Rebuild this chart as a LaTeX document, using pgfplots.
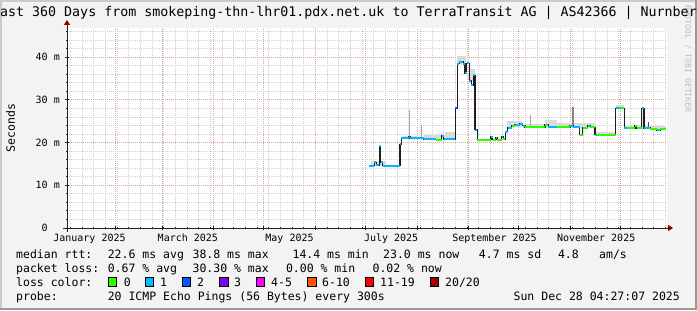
\documentclass[border=0pt]{standalone}
\usepackage{pgfplots}
\pgfplotsset{compat=1.18}
\usepackage{fontspec}
\setmainfont{DejaVu Sans Mono}
\usetikzlibrary{arrows.meta}
\definecolor{bgc}{HTML}{F3F3F3}
\definecolor{shadeA}{HTML}{CBCBCB}
\definecolor{shadeB}{HTML}{999999}
\definecolor{mgridc}{HTML}{DCA0A0}
\definecolor{gridc}{HTML}{D0D0D0}
\definecolor{axisc}{HTML}{202020}
\definecolor{arrowc}{HTML}{8B0000}
\definecolor{wmark}{HTML}{BDBDBD}
\definecolor{lc0}{HTML}{26FF00}
\definecolor{lc1}{HTML}{00B8FF}
\definecolor{lc2}{HTML}{0059FF}
\definecolor{lc3}{HTML}{7E00FF}
\definecolor{lc45}{HTML}{FF00FF}
\definecolor{lc610}{HTML}{FF5500}
\definecolor{lc1119}{HTML}{FF0000}
\definecolor{lc20}{HTML}{A10000}
\definecolor{smL}{HTML}{DADADA}
\definecolor{smM}{HTML}{A8A8A8}
\definecolor{smD}{HTML}{505050}
\definecolor{medline}{HTML}{1E1E1E}
\newcommand{\lgfont}{\fontsize{11.5bp}{13bp}\selectfont}
\newcommand{\axfont}{\fontsize{10bp}{12bp}\selectfont}
\begin{document}
\begin{tikzpicture}[x=1bp,y=1bp]
\fill[bgc] (0,0) rectangle (697,310);
\fill[shadeA] (0,0) rectangle (2,310);
\fill[shadeA] (0,308) rectangle (697,310);
\fill[shadeB] (0,0) rectangle (697,2);
\fill[shadeB] (695,0) rectangle (697,310);
% watermark
\node[rotate=-90, anchor=west, inner sep=0pt, text=wmark, font=\fontsize{8.1bp}{9bp}\selectfont] at (688,305) {RRDTOOL / TOBI OETIKER};
% title
\node[anchor=base, inner sep=0pt, font=\fontsize{13.3bp}{15bp}\selectfont] at (348.5,293.5) {Last 360 Days from smokeping-thn-lhr01.pdx.net.uk to TerraTransit AG | AS42366 | Nurnberg};
% y label
\node[rotate=90, inner sep=0pt, font=\lgfont] at (10.5,182) {Seconds};
\begin{axis}[
  at={(67bp,82bp)}, anchor=south west,
  scale only axis, width=600bp, height=200bp,
  xmin=2, xmax=362, ymin=0, ymax=46.85,
  axis lines=left,
  axis background/.style={fill=white},
  axis line style={draw=axisc, line width=1bp},
  x axis line style={-{Triangle[length=5bp,width=6bp,color=arrowc,fill=arrowc]}, shorten >=-6bp, shorten <=-4bp},
  y axis line style={-{Triangle[length=5bp,width=6bp,color=arrowc,fill=arrowc]}, shorten >=-8bp, shorten <=-4bp},
  xtick={31,59,90,120,151,181,212,243,273,304,334},
  xticklabels={},
  minor xtick={4,11,...,361},
  extra x ticks={15.5,74.5,135.5,196.5,258.5,319.5},
  extra x tick labels={January 2025,March 2025,May 2025,July 2025,September 2025,November 2025},
  extra x tick style={grid=none, major tick length=0pt},
  ytick={0,10,20,30,40},
  yticklabels={0\hphantom{\ m},10 m,20 m,30 m,40 m},
  minor ytick={2,4,...,46},
  grid=both,
  major grid style={draw=mgridc, dash pattern=on 1bp off 1bp, line width=1bp},
  minor grid style={draw=gridc, dash pattern=on 1bp off 1bp, line width=1bp},
  tick style={draw=axisc, line width=1bp},
  major tick length=4bp, minor tick length=2bp,
  tick align=center,
  ticklabel style={font=\axfont, inner sep=0pt},
  xticklabel style={anchor=north, yshift=-6bp},
  yticklabel style={anchor=east, xshift=-5bp},
]
% smoke (light)
\addplot[fill=smL, draw=none, forget plot] coordinates {(184.5,14.6) (193.5,14.6) (193.5,15.7) (184.5,15.7)};
\addplot[fill=smL, draw=none, forget plot] coordinates {(203,21.0) (212,21.0) (212,21.5) (203,21.5)};
\addplot[fill=smL, draw=none, forget plot] coordinates {(216,20.8) (229,20.8) (229,21.8) (216,21.8)};
\addplot[fill=smL, draw=none, forget plot] coordinates {(229,20.8) (235,20.8) (235,22.6) (229,22.6)};
\addplot[fill=smL, draw=none, forget plot] coordinates {(236.2,38.4) (241.5,38.4) (241.5,40.4) (236.2,40.4)};
\addplot[fill=smL, draw=none, forget plot] coordinates {(243,34.5) (247,34.5) (247,37.2) (243,37.2)};
\addplot[fill=smL, draw=none, forget plot] coordinates {(266,23.6) (275,23.6) (275,25.0) (266,25.0)};
\addplot[fill=smL, draw=none, forget plot] coordinates {(277,23.6) (289,23.6) (289,24.4) (277,24.4)};
\addplot[fill=smL, draw=none, forget plot] coordinates {(289,23.6) (296,23.6) (296,25.2) (289,25.2)};
\addplot[fill=smL, draw=none, forget plot] coordinates {(296,23.6) (306,23.6) (306,24.5) (296,24.5)};
\addplot[fill=smL, draw=none, forget plot] coordinates {(306,23.5) (318.5,23.5) (318.5,24.6) (306,24.6)};
\addplot[fill=smL, draw=none, forget plot] coordinates {(319,21.9) (331,21.9) (331,22.6) (319,22.6)};
\addplot[fill=smL, draw=none, forget plot] coordinates {(331.2,28.0) (336.2,28.0) (336.2,28.8) (331.2,28.8)};
\addplot[fill=smL, draw=none, forget plot] coordinates {(337,23.1) (361,23.1) (361,23.9) (337,23.9)};
% smoke spikes
\addplot[draw=smD, line width=1.5bp, forget plot] coordinates {(189.6,14.6) (189.6,19.3)};
\addplot[draw=smM, line width=1.2bp, forget plot] coordinates {(207.5,21.0) (207.5,27.6)};
\addplot[draw=smL!80!black, line width=1.2bp, forget plot] coordinates {(214.5,21.0) (214.5,24.1)};
\addplot[draw=smM, line width=1.2bp, forget plot] coordinates {(280,23.6) (280,26.5)};
\addplot[draw=smD!70!white, line width=1.8bp, forget plot] coordinates {(305.5,23.7) (305.5,28.4)};
\addplot[draw=smD, line width=1.5bp, forget plot] coordinates {(351,23.3) (351,24.9)};
% median: dark transitions
\addplot[const plot, draw=medline, line width=1.3bp, forget plot] coordinates {
(183.2,14.6) (186.3,15.4) (187.5,14.7) (189.3,19.3) (190.2,15.4) (191.3,14.6)
(201.8,19.6) (202.6,21.0) (207.2,21.3) (207.9,21.0) (216.0,20.8) (223.4,20.7)
(226.8,21.6) (228.0,20.8) (235.0,28.0) (236.2,38.5) (237.4,39.0) (239.8,38.5)
(240.8,36.2) (241.8,38.6) (243.4,34.5) (244.6,33.5) (245.8,35.8) (246.8,23.0)
(248.2,20.7) (256.4,21.4) (257.4,20.7) (259.4,21.1) (260.2,20.7) (262.8,21.3)
(263.8,20.8) (265.0,22.6) (266.4,23.4) (268.8,24.0) (270.8,24.2) (273.8,24.4)
(275.5,24.0) (276.8,23.6) (288.8,24.1) (290.8,23.7) (295.8,23.6) (303.8,24.0)
(305.8,23.7) (309.5,21.9) (311.5,23.5) (314.5,24.0) (316.0,23.6) (318.8,21.9)
(331.2,28.0) (336.4,23.4) (342.8,23.9) (343.8,23.4) (346.8,28.0) (348.2,23.4)
(352.0,23.1) (356.0,22.9) (358.0,23.1) (361.2,23.1)};
% median: loss 1 (blue) horizontal pieces
\addplot[jump mark left, draw=lc1, line width=2bp, forget plot] coordinates {
(183.2,14.6) (186.3,15.4) (187.5,14.7) (189.3,19.3) (190.2,15.4) (191.3,14.6)
(201.8,19.6) (202.6,21.0) (207.2,21.3) (207.9,21.0) (216.0,20.8) (223.4,20.7)
(226.8,21.6) (228.0,20.8) (235.0,28.0) (236.2,38.5) (237.4,39.0) (239.8,38.5)
(240.8,36.2) (241.8,38.6) (243.4,34.5) (244.6,33.5) (245.8,35.8) (246.8,23.0)
(248.2,20.7) (256.4,21.4) (257.4,20.7) (259.4,21.1) (260.2,20.7) (262.8,21.3)
(263.8,20.8) (265.0,22.6) (266.4,23.4) (268.8,24.0) (270.8,24.2) (273.8,24.4)
(275.5,24.0) (276.8,23.6) (288.8,24.1) (290.8,23.7) (295.8,23.6) (303.8,24.0)
(305.8,23.7) (309.5,21.9) (311.5,23.5) (314.5,24.0) (316.0,23.6) (318.8,21.9)
(331.2,28.0) (336.4,23.4) (342.8,23.9) (343.8,23.4) (346.8,28.0) (348.2,23.4)
(352.0,23.1) (356.0,22.9) (358.0,23.1) (361.2,23.1)};
% median: loss 0 (green) pieces
\addplot[sharp plot, unbounded coords=jump, draw=lc0, line width=2bp, forget plot] coordinates {
(223.4,20.7) (226.8,20.7) (226.8,nan)
(248.2,20.7) (256.4,20.7) (256.4,nan)
(257.4,20.7) (259.4,20.7) (259.4,nan)
(260.2,20.7) (262.8,20.7) (262.8,nan)
(263.8,20.8) (265.0,20.8) (265.0,nan)
(268.8,24.0) (270.8,24.0) (270.8,nan)
(276.8,23.6) (288.8,23.6) (288.8,nan)
(288.8,24.1) (290.8,24.1) (290.8,nan)
(295.8,23.6) (303.8,23.6) (303.8,nan)
(309.5,21.9) (311.5,21.9) (311.5,nan)
(311.5,23.5) (314.5,23.5) (314.5,nan)
(316.0,23.6) (318.8,23.6) (318.8,nan)
(320.0,21.9) (331.2,21.9) (331.2,nan)
(333.5,28.0) (336.4,28.0) (336.4,nan)
(338.0,23.4) (342.8,23.4) (342.8,nan)
(342.8,23.9) (343.8,23.9) (343.8,nan)
(343.8,23.4) (346.8,23.4) (346.8,nan)
(351.0,23.4) (352.0,23.4) (352.0,nan)
(352.0,23.1) (356.0,23.1) (356.0,nan)
(357.0,22.9) (358.0,22.9) (358.0,nan)
(358.0,23.1) (361.2,23.1)};
% median: loss 2 and 6-10 pieces
\addplot[sharp plot, unbounded coords=jump, draw=lc2, line width=2bp, forget plot] coordinates {
(235.0,28.0) (236.2,28.0) (236.2,nan) (246.8,23.0) (247.6,23.0)};
\addplot[sharp plot, unbounded coords=jump, draw=lc610, line width=2bp, forget plot] coordinates {
(207.2,21.3) (207.9,21.3) (207.9,nan) (259.4,21.1) (260.2,21.1)};
\end{axis}
% legend
\begin{scope}[font=\lgfont]
\node[anchor=base west, inner sep=0pt] at (16,52) {median rtt:};
\node[anchor=base west, inner sep=0pt] at (107.6,52) {22.6 ms avg};
\node[anchor=base west, inner sep=0pt] at (192.4,52) {38.8 ms max};
\node[anchor=base west, inner sep=0pt] at (292.4,52) {14.4 ms min};
\node[anchor=base west, inner sep=0pt] at (383,52) {23.0 ms now};
\node[anchor=base west, inner sep=0pt] at (478.7,52) {4.7 ms sd};
\node[anchor=base west, inner sep=0pt] at (557.8,52) {4.8};
\node[anchor=base west, inner sep=0pt] at (599,52) {am/s};
\node[anchor=base west, inner sep=0pt] at (16,38) {packet loss:};
\node[anchor=base west, inner sep=0pt] at (107.6,38) {0.67 \% avg};
\node[anchor=base west, inner sep=0pt] at (192.4,38) {30.30 \% max};
\node[anchor=base west, inner sep=0pt] at (285.8,38) {0.00 \% min};
\node[anchor=base west, inner sep=0pt] at (372.4,38) {0.02 \% now};
\node[anchor=base west, inner sep=0pt] at (16,24) {loss color:};
\filldraw[fill=lc0, draw=black, line width=0.8bp] (108,24) rectangle (116.4,32.4);
\node[anchor=base west, inner sep=0pt] at (123.6,24) {0};
\filldraw[fill=lc1, draw=black, line width=0.8bp] (145,24) rectangle (153.4,32.4);
\node[anchor=base west, inner sep=0pt] at (160,24) {1};
\filldraw[fill=lc2, draw=black, line width=0.8bp] (182,24) rectangle (190.4,32.4);
\node[anchor=base west, inner sep=0pt] at (197,24) {2};
\filldraw[fill=lc3, draw=black, line width=0.8bp] (219.5,24) rectangle (227.9,32.4);
\node[anchor=base west, inner sep=0pt] at (233.8,24) {3};
\filldraw[fill=lc45, draw=black, line width=0.8bp] (256.4,24) rectangle (264.8,32.4);
\node[anchor=base west, inner sep=0pt] at (271,24) {4-5};
\filldraw[fill=lc610, draw=black, line width=0.8bp] (307.6,24) rectangle (316,32.4);
\node[anchor=base west, inner sep=0pt] at (322,24) {6-10};
\filldraw[fill=lc1119, draw=black, line width=0.8bp] (365,24) rectangle (373.4,32.4);
\node[anchor=base west, inner sep=0pt] at (380,24) {11-19};
\filldraw[fill=lc20, draw=black, line width=0.8bp] (430,24) rectangle (438.4,32.4);
\node[anchor=base west, inner sep=0pt] at (445,24) {20/20};
\node[anchor=base west, inner sep=0pt] at (16,10) {probe:};
\node[anchor=base west, inner sep=0pt] at (107.6,10) {20 ICMP Echo Pings (56 Bytes) every 300s};
\node[anchor=base east, inner sep=0pt] at (680,10) {Sun Dec 28 04:27:07 2025};
\end{scope}
\pgfresetboundingbox
\useasboundingbox (0,0) rectangle (697,310);
\end{tikzpicture}
\end{document}
